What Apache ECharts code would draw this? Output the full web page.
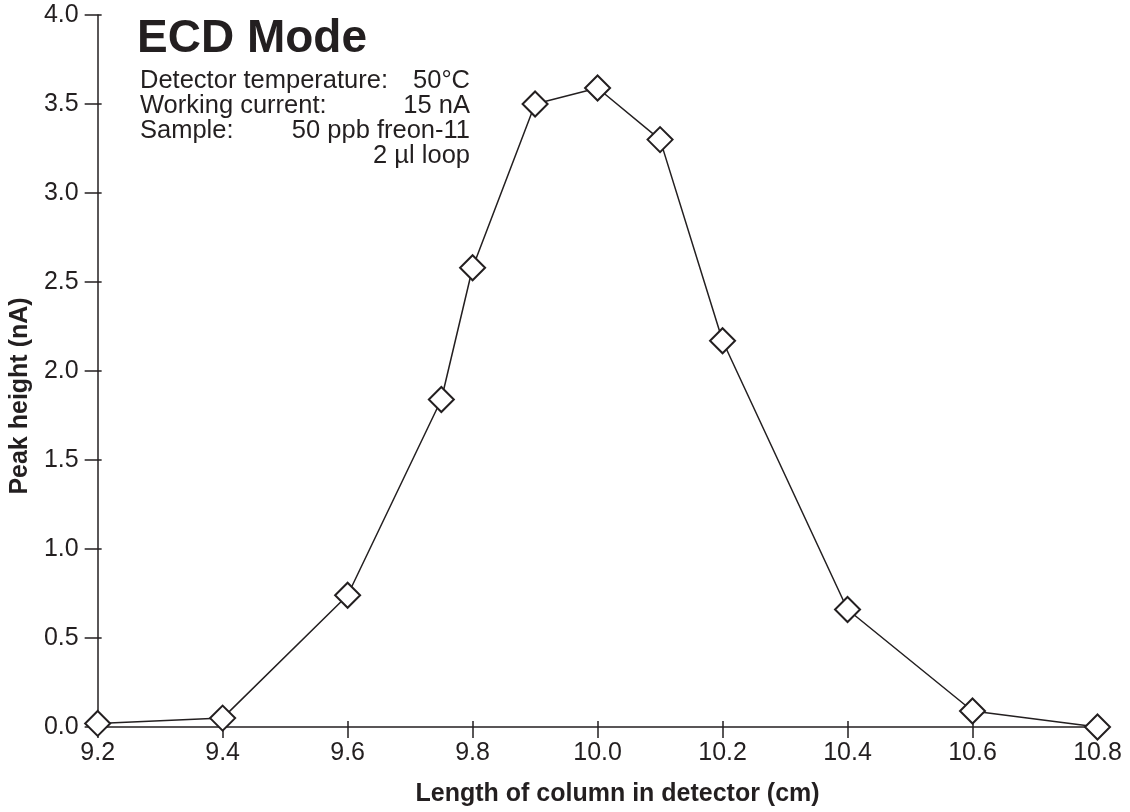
<!DOCTYPE html>
<html>
<head>
<meta charset="utf-8">
<title>ECD Mode</title>
<script src="https://cdn.jsdelivr.net/npm/echarts@6/dist/echarts.min.js"></script>
<style>
  html, body { margin: 0; padding: 0; background: #fff; }
  #chart { width: 1130px; height: 812px; }
</style>
</head>
<body>
<div id="chart"></div>
<script>
// column length in detector (cm) and peak height (nA)
const columnLength = [9.2, 9.4, 9.6, 9.75, 9.8, 9.9, 10.0, 10.1, 10.2, 10.4, 10.6, 10.8]
const peakHeight = [0.02, 0.05, 0.74, 1.84, 2.58, 3.5, 3.59, 3.3, 2.17, 0.66, 0.09, 0.0]

const infoLabels = ['Detector temperature:', 'Working current:', 'Sample:', '']
const infoValues = ['50°C', '15 nA', '50 ppb freon-11', '2 µl loop']

const ink = '#231f20'
const font = 'Liberation Sans, Arial, Helvetica, sans-serif'

const points = columnLength.map((x, i) => [x, peakHeight[i]])

const chart = echarts.init(document.getElementById('chart'))

const infoText = []
infoLabels.forEach((t, i) => {
  const y = 81 + i * 25
  if (t) {
    infoText.push({
      type: 'text', x: 140, y: y,
      style: { text: t, fill: ink, font: '25.5px ' + font, textAlign: 'left', textVerticalAlign: 'middle' }
    })
  }
  infoText.push({
    type: 'text', x: 470, y: y,
    style: { text: infoValues[i], fill: ink, font: '25.5px ' + font, textAlign: 'right', textVerticalAlign: 'middle' }
  })
})

const xBase = {
  type: 'value', min: 9.2, max: 10.8, interval: 0.2,
  splitLine: { show: false }
}
const yBase = {
  type: 'value', min: 0, max: 4, interval: 0.5,
  splitLine: { show: false }
}

chart.setOption({
  backgroundColor: '#fff',
  animation: false,
  textStyle: { fontFamily: font, color: ink },
  grid: { left: 97.5, right: 32.5, top: 15, bottom: 84, containLabel: false },
  xAxis: [
    Object.assign({}, xBase, {
      position: 'bottom',
      name: 'Length of column in detector (cm)',
      nameLocation: 'middle',
      nameGap: 55,
      nameTextStyle: { fontSize: 25, fontWeight: 'bold', color: ink, padding: [0, 0, 0, 40] },
      axisLine: { show: true, onZero: false, lineStyle: { color: ink, width: 1.5 } },
      axisTick: { show: true, inside: false, length: 11, lineStyle: { color: ink, width: 1.5 } },
      axisLabel: { fontSize: 25, color: ink, margin: 14, formatter: v => v.toFixed(1) }
    }),
    Object.assign({}, xBase, {
      position: 'bottom',
      axisLine: { show: false },
      axisTick: { show: true, inside: true, length: 6, lineStyle: { color: ink, width: 1.5 } },
      axisLabel: { show: false }
    })
  ],
  yAxis: [
    Object.assign({}, yBase, {
      position: 'left',
      name: 'Peak height (nA)',
      nameLocation: 'middle',
      nameGap: 58,
      nameTextStyle: { fontSize: 25, fontWeight: 'bold', color: ink, padding: [0, 50, 0, 0] },
      axisLine: { show: true, onZero: false, lineStyle: { color: ink, width: 1.5 } },
      axisTick: { show: true, inside: false, length: 13, lineStyle: { color: ink, width: 1.5 } },
      axisLabel: { fontSize: 25, color: ink, margin: 19, formatter: v => v.toFixed(1) }
    }),
    Object.assign({}, yBase, {
      position: 'left',
      axisLine: { show: false },
      axisTick: { show: true, inside: true, length: 4, lineStyle: { color: ink, width: 1.5 } },
      axisLabel: { show: false }
    })
  ],
  graphic: [
    {
      type: 'text', x: 137, y: 39,
      style: { text: 'ECD Mode', fill: ink, font: 'bold 46px ' + font, textAlign: 'left', textVerticalAlign: 'middle' }
    }
  ].concat(infoText),
  series: [
    {
      name: 'Peak height',
      type: 'line',
      xAxisIndex: 0,
      yAxisIndex: 0,
      data: points,
      symbol: 'diamond',
      symbolSize: 25,
      clip: false,
      lineStyle: { color: ink, width: 1.5 },
      itemStyle: { color: '#fff', borderColor: ink, borderWidth: 2 },
      z: 3
    }
  ]
})
</script>
</body>
</html>
